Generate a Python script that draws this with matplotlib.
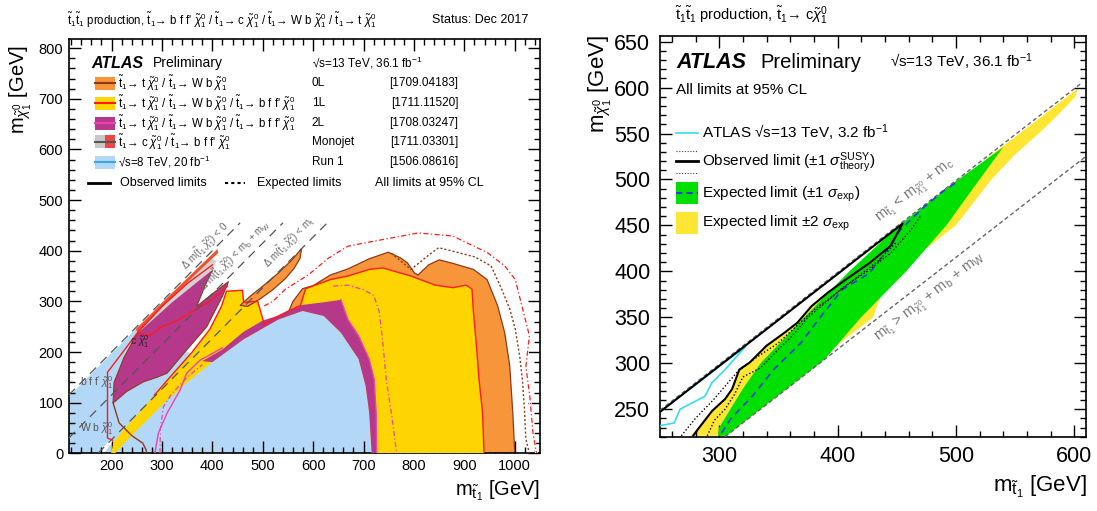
import matplotlib
matplotlib.use('Agg')
import matplotlib.pyplot as plt
from matplotlib.patches import Rectangle
from matplotlib.ticker import MultipleLocator

plt.rcParams['font.family'] = ['Liberation Sans', 'DejaVu Sans']
plt.rcParams['mathtext.fontset'] = 'custom'
plt.rcParams['mathtext.rm'] = 'Liberation Sans'
plt.rcParams['mathtext.it'] = 'Liberation Sans:italic'
plt.rcParams['mathtext.bf'] = 'Liberation Sans:bold'
plt.rcParams['mathtext.sf'] = 'Liberation Sans'

# ---------------- LEFT PANEL DATA (m_stop, m_LSP in GeV) ----------------
run1_x = [115, 716, 711, 704, 690, 655, 621, 579, 531, 462, 400, 350, 300, 255, 115]
run1_y = [0, 0, 80, 133, 186, 238, 271, 281, 264, 225, 185, 200, 240, 252, 112]

gap_x = [172, 185, 203, 197]
gap_y = [0, 0, 24, 27]

zeroL_x = [551, 560, 579, 600, 634, 669, 711, 749, 773, 787, 801, 808, 829, 850, 877, 918, 945, 966, 980, 990,
           996, 1000, 726, 725, 721, 711, 690, 669, 655, 620, 579]
zeroL_y = [279, 300, 325, 331, 352, 364, 384, 397, 386, 376, 356, 352, 372, 382, 375, 363, 343, 291, 238, 172,
           80, 0, 0, 80, 146, 186, 232, 264, 300, 295, 290]

zeroL_spike_x = [455, 475, 500, 530, 556, 572, 577, 574, 562, 545, 520, 495, 470]
zeroL_spike_y = [292, 310, 330, 355, 380, 398, 404, 385, 365, 345, 323, 305, 290]

oneL_x = [199, 204, 225, 255, 285, 320, 360, 395, 418, 428, 460, 462, 490, 503, 531, 551, 575, 585, 634, 669,
          711, 738, 794, 842, 877, 904, 915, 918, 924, 929, 936, 939, 716, 711, 704, 690, 655, 621, 579, 531,
          462, 400, 350, 300, 260, 230, 207]
oneL_y = [0, 22, 48, 80, 115, 155, 200, 245, 290, 320, 322, 298, 300, 255, 271, 281, 292, 325, 343, 350,
          363, 366, 350, 332, 327, 332, 324, 278, 212, 146, 80, 0, 0, 80, 133, 186, 238, 271, 281, 264,
          225, 180, 140, 95, 55, 25, 0]

twoL_x = [380, 420, 462, 500, 531, 579, 620, 655, 669, 690, 711, 721, 725, 726, 716, 711, 704, 690, 655, 621,
          579, 531, 462, 400]
twoL_y = [182, 205, 240, 262, 272, 293, 298, 303, 264, 232, 186, 146, 80, 0, 0, 80, 133, 186, 238, 271,
          281, 264, 225, 180]

twoL_ul_x = [203, 205, 225, 253, 300, 350, 402, 385, 369, 400, 432, 420, 389, 349, 310, 290, 263, 230]
twoL_ul_y = [99, 140, 190, 240, 290, 330, 366, 330, 290, 315, 339, 310, 250, 204, 158, 150, 141, 122]

mono_gray_x = [255, 280, 320, 360, 400, 408, 395, 350, 300, 262]
mono_gray_y = [240, 262, 298, 330, 362, 380, 388, 345, 298, 252]
mono_red_x = [248, 300, 360, 410, 412, 360, 300, 252]
mono_red_y = [245, 297, 355, 403, 396, 347, 288, 238]

zeroL_exp_x = [755, 794, 830, 849, 877, 920, 953, 974, 990, 1001, 1010, 1015, 1019, 1022, 1029]
zeroL_exp_y = [395, 363, 392, 406, 399, 388, 370, 324, 285, 245, 190, 146, 90, 28, 0]

oneL_exp_x = [503, 520, 545, 590, 630, 669, 738, 808, 877, 946, 980, 1001, 1029, 1022, 1030, 1036, 1043]
oneL_exp_y = [291, 300, 324, 352, 385, 409, 422, 435, 429, 396, 370, 343, 232, 172, 110, 41, 0]

twoL_exp_x = [640, 669, 700, 720, 731, 738, 745, 755, 763, 766]
twoL_exp_y = [330, 332, 323, 312, 280, 220, 146, 80, 20, 0]

twoL_obs_low_x = [286, 293, 310, 336, 349, 376, 420]
twoL_obs_low_y = [0, 40, 79, 125, 158, 184, 208]
twoL_exp_low_x = [296, 297, 303, 320, 350, 380]
twoL_exp_low_y = [0, 50, 92, 118, 150, 175]

mono_obs_x = [202, 192, 192, 253, 300, 350, 400]
mono_obs_y = [26, 30, 160, 240, 290, 335, 372]
mono_obs2_x = [253, 275, 300, 330, 360, 395, 430]
mono_obs2_y = [238, 232, 250, 262, 280, 300, 330]

zeroL_low_x = [203, 215, 240, 262, 268, 270]
zeroL_low_y = [100, 60, 35, 20, 8, 0]

kin_offsets = [0, 85, 173]
kin_labels = [r'$\Delta$ m($\tilde{\mathrm{t}}_1$,$\tilde{\chi}^0_1$) < 0',
              r'$\Delta$ m($\tilde{\mathrm{t}}_1$,$\tilde{\chi}^0_1$) < m$_\mathrm{b}$ + m$_\mathrm{W}$',
              r'$\Delta$ m($\tilde{\mathrm{t}}_1$,$\tilde{\chi}^0_1$) < m$_\mathrm{t}$']
kin_label_pos = [(385, 409), (444, 390), (551, 416)]

# ---------------- RIGHT PANEL DATA ----------------
r_obs_x = [278, 282, 294, 305, 311, 317, 326, 340, 355, 366, 378, 392, 407, 427, 445, 455, 400, 330, 250]
r_obs_y = [221, 228, 248, 261, 272, 293, 301, 319, 333, 344, 362, 377, 391, 409, 428, 452, 397, 327, 247]
r_th_up_x = [268, 280, 295, 305, 315, 330, 350, 365, 380, 398, 415, 435, 450]
r_th_up_y = [221, 240, 260, 275, 290, 305, 322, 340, 358, 375, 392, 412, 432]
r_th_dn_x = [290, 296, 305, 313, 320, 335, 350, 362, 375, 390, 405, 425, 445, 462, 470]
r_th_dn_y = [221, 238, 250, 266, 285, 295, 315, 330, 350, 366, 383, 400, 420, 445, 460]
r_exp_x = [302, 310, 328, 346, 369, 386, 404, 427, 440, 453, 473, 491, 502]
r_exp_y = [224, 240, 264, 293, 322, 351, 380, 398, 420, 445, 470, 489, 498]
r_1s_x = [299, 300, 320, 335, 372, 410, 452, 500, 540, 520, 492, 458, 420, 389, 306]
r_1s_y = [221, 230, 272, 300, 350, 400, 450, 498, 535, 500, 450, 400, 350, 304, 221]
r_2s_x = [276, 282, 294, 305, 311, 317, 326, 340, 355, 366, 378, 392, 407, 427, 445, 456, 470, 490, 510, 530,
          550, 570, 590, 603, 601, 583, 570, 550, 530, 500, 470, 444, 430, 400, 389, 306]
r_2s_y = [221, 230, 249, 262, 273, 294, 302, 320, 334, 345, 363, 378, 392, 410, 430, 445, 462, 485, 505, 527,
          546, 566, 586, 599, 590, 566, 550, 527, 500, 450, 420, 400, 350, 320, 304, 221]
r_old_x = [250, 262, 267, 288, 294, 305, 318, 322, 250]
r_old_y = [232, 235, 250, 264, 279, 293, 312, 318, 247]

# ---------------- colours ----------------
C_ORANGE, C_YELLOW, C_PURPLE, C_BLUE = '#F7953B', '#FFD500', '#B5388B', '#B3D8F7'
C_BROWN, C_RED, C_MAG = '#8E3A1A', '#FF1A1A', '#F040B0'

W, H = 1097, 511
fig = plt.figure(figsize=(W / 100, H / 100), dpi=100)

def px_axes(l, t, r, b):
    return fig.add_axes([l / W, 1 - b / H, (r - l) / W, (b - t) / H])

def style(ax, xmaj, xmin, ymaj, ymin, size, pad):
    ax.xaxis.set_major_locator(MultipleLocator(xmaj))
    ax.xaxis.set_minor_locator(MultipleLocator(xmin))
    ax.yaxis.set_major_locator(MultipleLocator(ymaj))
    ax.yaxis.set_minor_locator(MultipleLocator(ymin))
    ax.tick_params(which='both', direction='in', top=True, right=True, width=1.0, labelsize=size, pad=pad)
    ax.tick_params(which='major', length=8.5)
    ax.tick_params(which='minor', length=4.3)
    for s in ax.spines.values():
        s.set_linewidth(1.2)

# ================= LEFT PANEL =================
ax1 = px_axes(68.7, 39, 540, 453.3)
ax1.set_xlim(115, 1050)
ax1.set_ylim(0, 818)
style(ax1, 100, 20, 100, 20, 10.5, 4)

ax1.fill(run1_x, run1_y, color=C_BLUE, lw=0, zorder=1)
ax1.fill(gap_x, gap_y, color='white', lw=0, zorder=1.5)
ax1.fill(zeroL_x, zeroL_y, color=C_ORANGE, ec=C_BROWN, lw=0.9, zorder=2)
ax1.fill(oneL_x, oneL_y, color=C_YELLOW, lw=0, zorder=3)
ax1.fill(twoL_x, twoL_y, color=C_PURPLE, lw=0, zorder=4)
ax1.fill(twoL_ul_x, twoL_ul_y, color=C_PURPLE, ec=C_BROWN, lw=0.8, zorder=4)
ax1.fill(zeroL_spike_x, zeroL_spike_y, color=C_ORANGE, ec=C_BROWN, lw=0.9, zorder=4)
ax1.fill(mono_gray_x, mono_gray_y, color='#D2D2D2', lw=0, zorder=5)
ax1.fill(mono_red_x, mono_red_y, color='#F05030', lw=0, zorder=5)

ax1.plot(oneL_x[4:32], oneL_y[4:32], color=C_RED, lw=1.0, zorder=6)
ax1.plot(twoL_x[7:14], twoL_y[7:14], color=C_MAG, lw=1.0, zorder=6)
ax1.plot(zeroL_exp_x, zeroL_exp_y, color=C_BROWN, lw=1.0, ls=(0, (1.5, 1.5)), zorder=6)
ax1.plot(oneL_exp_x, oneL_exp_y, color='white', lw=2.0, zorder=5.9)
ax1.plot(oneL_exp_x, oneL_exp_y, color=C_RED, lw=0.9, ls=(0, (4, 2, 1, 2)), zorder=6)
ax1.plot(twoL_exp_x, twoL_exp_y, color=C_MAG, lw=0.9, ls=(0, (4, 2, 1, 2)), zorder=6)
ax1.plot(twoL_obs_low_x, twoL_obs_low_y, color=C_MAG, lw=1.0, zorder=6)
ax1.plot(twoL_exp_low_x, twoL_exp_low_y, color=C_MAG, lw=0.9, ls=(0, (4, 2, 1, 2)), zorder=6)
ax1.plot(mono_obs_x, mono_obs_y, color=C_RED, lw=1.0, zorder=6)
ax1.plot(mono_obs2_x, mono_obs2_y, color=C_RED, lw=1.0, zorder=6)
ax1.plot(zeroL_low_x, zeroL_low_y, color=C_BROWN, lw=1.0, zorder=6)

for off, lab, (lx, ly) in zip(kin_offsets, kin_labels, kin_label_pos):
    x0 = max(115, off)
    ax1.plot([x0, 455 + off], [x0 - off, 455], color='#555555', lw=0.9, ls=(0, (7, 5)), zorder=7)
    ax1.text(lx, ly, lab, rotation=45, transform_rotates_text=True, rotation_mode='anchor',
             ha='center', va='center', fontsize=7, color='#666666', zorder=8)

ax1.text(138, 140, r"b f f$^\prime$ $\tilde{\chi}^0_1$", fontsize=7.5, color='#555555', va='center', zorder=8)
ax1.text(138, 48, r"W b $\tilde{\chi}^0_1$", fontsize=7.5, color='#555555', va='center', zorder=8)
ax1.text(236, 220, r"c $\tilde{\chi}^0_1$", fontsize=7.5, color='#222222', va='center', zorder=8)

# ================= RIGHT PANEL =================
ax2 = px_axes(660, 35.7, 1086, 436.7)
ax2.set_xlim(250, 610)
ax2.set_ylim(220, 656.5)
style(ax2, 100, 20, 50, 10, 15.5, 7)

ax2.fill(r_2s_x, r_2s_y, color='#FFE633', lw=0, zorder=1)
ax2.fill(r_1s_x, r_1s_y, color='#00E000', lw=0, zorder=2)
ax2.plot(r_exp_x, r_exp_y, color='#2B3BE0', lw=1.2, ls=(0, (4, 3)), zorder=4)
ax2.plot(r_obs_x, r_obs_y, color='black', lw=1.5, zorder=5)
ax2.plot(r_th_up_x, r_th_up_y, color='black', lw=1.0, ls=(0, (1, 1.5)), zorder=5)
ax2.plot(r_th_dn_x, r_th_dn_y, color='black', lw=1.0, ls=(0, (1, 1.5)), zorder=5)
ax2.plot(r_old_x, r_old_y, color='#33DDF0', lw=1.2, zorder=4)
ax2.plot([250, 607], [248.7, 605.7], color='#666666', lw=1.0, ls=(0, (3, 2)), zorder=3)
ax2.plot([305, 610], [220, 525.2], color='#666666', lw=1.0, ls=(0, (3, 2)), zorder=3)
ax2.text(466, 487, r'm$_{\tilde{\mathrm{t}}_1}$ < m$_{\tilde{\chi}^0_1}$ + m$_\mathrm{c}$', rotation=45,
         transform_rotates_text=True, rotation_mode='anchor', ha='center', va='center',
         fontsize=10.5, color='#777777')
ax2.text(479, 371, r'm$_{\tilde{\mathrm{t}}_1}$ > m$_{\tilde{\chi}^0_1}$ + m$_\mathrm{b}$ + m$_\mathrm{W}$',
         rotation=45, transform_rotates_text=True, rotation_mode='anchor', ha='center', va='center',
         fontsize=10.5, color='#777777')

# ================= OVERLAY (pixel coordinates) =================
ov = fig.add_axes([0, 0, 1, 1], zorder=10)
ov.set_xlim(0, W)
ov.set_ylim(H, 0)
ov.axis('off')

st = r'$\tilde{\mathrm{t}}_1$'
chi = r'$\tilde{\chi}^0_1$'
arr = '\u2192 '
ov.text(67, 20, r'$\tilde{\mathrm{t}}_1\tilde{\mathrm{t}}_1$ production, ' + st + arr + "b f f' " + chi + ' / ' + st + arr
        + 'c ' + chi + ' / ' + st + arr + 'W b ' + chi + ' / ' + st + arr + 't ' + chi, fontsize=8.3, va='center')
ov.text(528, 20, 'Status: Dec 2017', fontsize=9, ha='right', va='center')

ov.text(91.7, 63.3, 'ATLAS', fontsize=11.5, weight='bold', style='italic', va='center')
ov.text(153, 63.3, 'Preliminary', fontsize=10, va='center')
ov.text(311.7, 63.3, '\u221As=13 TeV, 36.1 fb$^{-1}$', fontsize=8.5, va='center')

leg_rows = [83.3, 103.3, 123.3, 141.7, 162.3]
leg_fill = [C_ORANGE, C_YELLOW, C_PURPLE, None, '#B3D8F7']
leg_line = [C_BROWN, C_RED, C_MAG, '#555555', '#3AA8E8']
leg_text = [st + arr + 't ' + chi + ' / ' + st + arr + 'W b ' + chi,
            st + arr + 't ' + chi + ' / ' + st + arr + 'W b ' + chi + ' / ' + st + arr + "b f f' " + chi,
            st + arr + 't ' + chi + ' / ' + st + arr + 'W b ' + chi + ' / ' + st + arr + "b f f' " + chi,
            st + arr + 'c ' + chi + ' / ' + st + arr + "b f f' " + chi,
            '\u221As=8 TeV, 20 fb$^{-1}$']
leg_tag = ['0L', '1L', '2L', 'Monojet', 'Run 1']
leg_ref = ['[1709.04183]', '[1711.11520]', '[1708.03247]', '[1711.03301]', '[1506.08616]']
for y, fc, lc, t, tag, ref in zip(leg_rows, leg_fill, leg_line, leg_text, leg_tag, leg_ref):
    if fc is None:
        ov.add_patch(Rectangle((95, y - 6.5), 10, 13, color='#C8C8C8', lw=0))
        ov.add_patch(Rectangle((105, y - 6.5), 10, 13, color='#F04545', lw=0))
    else:
        ov.add_patch(Rectangle((95, y - 6.5), 20, 13, color=fc, lw=0))
    ov.plot([95, 115], [y, y], color=lc, lw=1.5)
    ov.text(118.3, y, t, fontsize=8.3, va='center')
    ov.text(311.7, y, tag, fontsize=8.5, va='center')
    ov.text(458.3, y, ref, fontsize=8.5, va='center', ha='right')

ov.plot([88, 110], [183.3, 183.3], color='black', lw=2)
ov.text(120, 183.3, 'Observed limits', fontsize=9, va='center')
ov.plot([225, 245], [183.3, 183.3], color='black', lw=1.5, ls=(0, (1.5, 1.5)))
ov.text(256.7, 183.3, 'Expected limits', fontsize=9, va='center')
ov.text(375, 183.3, 'All limits at 95% CL', fontsize=9, va='center')

ov.text(21, 45, r'm$_{\tilde{\chi}^0_1}$ [GeV]', fontsize=14.5, rotation=90, ha='center', va='top')
ov.text(540, 491, r'm$_{\tilde{\mathrm{t}}_1}$ [GeV]', fontsize=14.5, ha='right', va='center')

ov.text(675, 15, r'$\tilde{\mathrm{t}}_1\tilde{\mathrm{t}}_1$ production, ' + st + arr + r'c$\tilde{\chi}^0_1$',
        fontsize=10.5, va='center')
ov.text(676, 62, 'ATLAS', fontsize=15.5, weight='bold', style='italic', va='center')
ov.text(760, 62, 'Preliminary', fontsize=14.5, va='center')
ov.text(890, 62, '\u221As=13 TeV, 36.1 fb$^{-1}$', fontsize=11, va='center')
ov.text(676, 90, 'All limits at 95% CL', fontsize=11, va='center')

ov.plot([676, 698], [133, 133], color='#33DDF0', lw=1.2)
ov.text(702, 133, 'ATLAS \u221As=13 TeV, 3.2 fb$^{-1}$', fontsize=11, va='center')
ov.plot([676, 698], [151, 151], color='#444444', lw=0.8, ls=(0, (1, 1.5)))
ov.plot([676, 698], [160.7, 160.7], color='black', lw=2)
ov.plot([676, 698], [172.8, 172.8], color='#444444', lw=0.8, ls=(0, (1, 1.5)))
ov.text(702, 163, r'Observed limit ($\pm$1 $\sigma^\mathrm{SUSY}_\mathrm{theory}$)', fontsize=11, va='center')
ov.add_patch(Rectangle((676, 182.4), 21.5, 21.5, color='#00E000', lw=0))
ov.plot([676, 697.5], [193.5, 193.5], color='#2B3BE0', lw=1.5, ls=(0, (3, 2)))
ov.text(702, 194, r'Expected limit ($\pm$1 $\sigma_\mathrm{exp}$)', fontsize=11, va='center')
ov.add_patch(Rectangle((676, 212.5), 21.5, 21.8, color='#FFE633', lw=0))
ov.text(702, 223.5, r'Expected limit $\pm$2 $\sigma_\mathrm{exp}$', fontsize=11, va='center')

ov.text(600, 35, r'm$_{\tilde{\chi}^0_1}$ [GeV]', fontsize=16, rotation=90, ha='center', va='top')
ov.text(1087, 487, r'm$_{\tilde{\mathrm{t}}_1}$ [GeV]', fontsize=16, ha='right', va='center')

fig.savefig('out.png', dpi=100)
